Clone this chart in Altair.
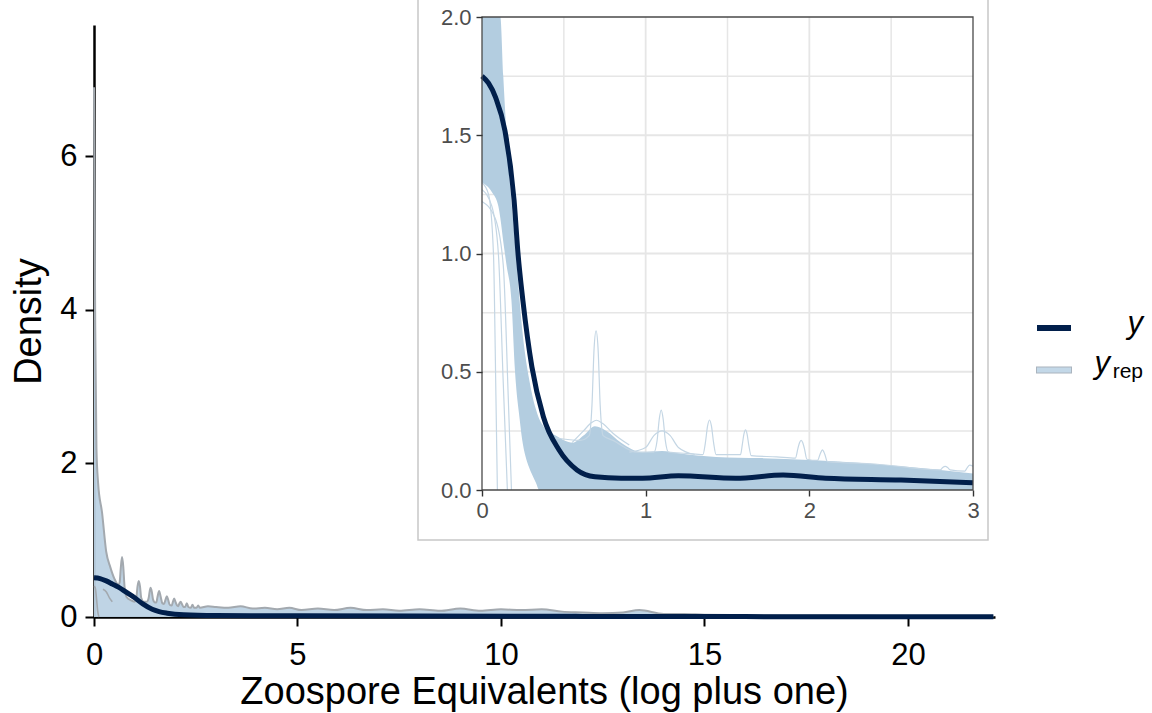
import altair as alt
import pandas as pd

FONT = "Liberation Sans"

# ---------------- main panel data ----------------
main_y_x = [0, 0.15, 0.3, 0.45, 0.6, 0.8, 1.0, 1.2, 1.43, 1.6, 1.8, 2.2, 3, 5, 8, 12, 16, 20, 22.1]
main_y_d = [0.51, 0.50, 0.47, 0.43, 0.39, 0.32, 0.25, 0.17, 0.10, 0.07, 0.05, 0.03, 0.02, 0.015,
            0.012, 0.008, 0.005, 0.003, 0.002]

main_env_x = [0.0, 0.03, 0.06, 0.1, 0.2, 0.3, 0.4, 0.5, 0.6, 0.63, 0.66, 0.69, 0.72, 0.75, 0.8,
              0.9, 1.0, 1.04, 1.07, 1.1, 1.13, 1.16, 1.22, 1.3, 1.34, 1.37, 1.39, 1.42, 1.45, 1.5,
              1.53, 1.56, 1.6, 1.64, 1.68, 1.72, 1.76, 1.79, 1.82, 1.86, 1.91, 1.94, 1.97, 2.0,
              2.04, 2.07, 2.1, 2.13, 2.16, 2.2, 2.24, 2.28, 2.32, 2.38, 2.42, 2.46, 2.52, 2.56,
              2.6, 2.8, 3.0, 3.3, 3.6, 3.9, 4.2, 4.5, 4.8, 5.1, 5.5, 5.9, 6.3, 6.7, 7.1, 7.5, 8,
              8.5, 9, 9.5, 10, 10.5, 11, 11.5, 12, 12.5, 13, 13.4, 14, 14.5, 15, 16, 17, 18, 19,
              20, 21, 22.1]
main_env_d = [6.9, 3.8, 2.2, 1.75, 1.35, 0.85, 0.65, 0.5, 0.42, 0.45, 0.65, 0.78, 0.65, 0.4, 0.26,
              0.22, 0.2, 0.25, 0.4, 0.47, 0.4, 0.25, 0.2, 0.2, 0.24, 0.34, 0.38, 0.33, 0.23, 0.19,
              0.19, 0.26, 0.34, 0.26, 0.18, 0.17, 0.23, 0.27, 0.23, 0.16, 0.15, 0.2, 0.24, 0.2,
              0.15, 0.14, 0.18, 0.2, 0.17, 0.13, 0.13, 0.18, 0.13, 0.12, 0.16, 0.12, 0.12, 0.15,
              0.12, 0.14, 0.13, 0.12, 0.14, 0.11, 0.12, 0.1, 0.12, 0.09, 0.11, 0.09, 0.12, 0.09,
              0.1, 0.08, 0.1, 0.08, 0.11, 0.08, 0.1, 0.09, 0.1, 0.07, 0.06, 0.05, 0.06, 0.09, 0.04,
              0.04, 0.03, 0.025, 0.02, 0.02, 0.015, 0.01, 0.01, 0.005]

main_low1_x = [0, 0.03, 0.06, 0.09, 0.12]
main_low1_d = [0.4, 0.38, 0.25, 0.08, 0.0]
main_low2_x = [0.22, 0.3, 0.38, 0.45]
main_low2_d = [0.36, 0.33, 0.25, 0.2]

# ---------------- inset data ----------------
band_x = [0, 0.06, 0.1, 0.112, 0.13, 0.14, 0.15, 0.18, 0.2, 0.207, 0.23, 0.24, 0.28, 0.285, 0.33,
          0.35, 0.375, 0.45, 0.555, 0.62, 0.69, 0.76, 0.85, 0.98, 1.1, 1.2, 1.43, 1.7, 2.0, 2.3,
          2.56, 2.8, 3.0]
band_hi = [2.0, 2.0, 2.0, 2.0, 1.75, 1.62, 1.5, 1.22, 1.06, 1.0, 0.8, 0.72, 0.5, 0.48, 0.34, 0.3,
           0.27, 0.23, 0.2, 0.23, 0.27, 0.25, 0.2, 0.16, 0.165, 0.155, 0.14, 0.135, 0.127, 0.115,
           0.1, 0.085, 0.07]
band_lo = [1.3, 1.26, 1.2, 1.15, 1.05, 1.0, 0.95, 0.8, 0.52, 0.45, 0.3, 0.24, 0.11, 0.1, 0.03,
           0.0, 0, 0, 0, 0, 0, 0, 0, 0, 0, 0, 0, 0, 0, 0, 0, 0, 0]

faint_lines = {
    "a": ([0, 0.04, 0.07, 0.085, 0.094], [1.3, 1.25, 1.0, 0.4, 0.0]),
    "b": ([0, 0.06, 0.1, 0.13, 0.155], [1.27, 1.2, 1.0, 0.45, 0.0]),
    "c": ([0, 0.08, 0.13, 0.16, 0.18], [1.22, 1.15, 0.95, 0.4, 0.0]),
    "s1": ([0.45, 0.6, 0.655, 0.672, 0.685, 0.697, 0.709, 0.722, 0.74, 0.8, 0.95, 1.05, 1.07,
            1.083, 1.095, 1.107, 1.12, 1.14, 1.25, 1.35, 1.365, 1.378, 1.39, 1.402, 1.415, 1.43,
            1.58, 1.59, 1.6, 1.61, 1.62, 1.63, 1.645, 1.8, 1.915, 1.93, 1.94, 1.95, 1.96, 1.97,
            1.985, 2.05, 2.065, 2.08, 2.095, 2.11, 2.4, 2.8, 2.815, 2.83, 2.845, 2.86, 2.95, 2.965,
            2.98, 3.0],
           [0.22, 0.21, 0.23, 0.36, 0.6, 0.673, 0.6, 0.36, 0.23, 0.21, 0.16, 0.16, 0.21, 0.3, 0.338,
            0.3, 0.21, 0.16, 0.155, 0.15, 0.2, 0.27, 0.296, 0.27, 0.2, 0.15, 0.15, 0.19, 0.235,
            0.254, 0.235, 0.19, 0.145, 0.14, 0.135, 0.175, 0.2, 0.21, 0.2, 0.175, 0.13, 0.125,
            0.15, 0.17, 0.15, 0.12, 0.11, 0.085, 0.095, 0.1, 0.095, 0.085, 0.08, 0.095, 0.105,
            0.1]),
    "s2": ([0.9, 1.0, 1.05, 1.1, 1.15, 1.2, 1.3], [0.16, 0.18, 0.23, 0.25, 0.23, 0.18, 0.15]),
    "s3": ([0.55, 0.62, 0.67, 0.7, 0.74, 0.8, 0.9], [0.2, 0.25, 0.285, 0.295, 0.28, 0.24, 0.19]),
}

inset_y_x = [0, 0.04, 0.083, 0.14, 0.196, 0.22, 0.25, 0.305, 0.375, 0.47, 0.58, 0.69, 0.85, 0.98,
             1.2, 1.55, 1.84, 2.1, 2.56, 3.0]
inset_y_d = [1.75, 1.72, 1.66, 1.52, 1.225, 1.0, 0.8, 0.52, 0.31, 0.17, 0.085, 0.056, 0.05, 0.05,
             0.06, 0.05, 0.063, 0.05, 0.042, 0.031]

main_x_ticks = [0, 5, 10, 15, 20]
main_y_ticks = [0, 2, 4, 6]
inset_x_ticks = [0, 1, 2, 3]
inset_y_ticks = [0, 0.5, 1.0, 1.5, 2.0]
inset_x_minor = [0.5, 1.5, 2.5]
inset_x_major = [1, 2]
inset_y_minor = [0.25, 0.75, 1.25, 1.75]
inset_y_major = [0.5, 1.0, 1.5]
inset_x_domain = [0, 3]
inset_y_domain = [0, 2]
main_x_domain = [0, 22.14]
main_y_domain = [0, 7.71]

legend_labels = ["y", "y"]
legend_sub = ["rep"]

# ---------------- layout ----------------
W, H = 901, 592
DARK = "#011f4b"
GREY = "#a3a9af"

xs_main = alt.Scale(domain=main_x_domain, nice=False, zero=False)
ys_main = alt.Scale(domain=main_y_domain, nice=False)

x_axis_main = alt.Axis(values=main_x_ticks, format="d", title="Zoospore Equivalents (log plus one)",
                       labelFont=FONT, labelFontSize=31, labelColor="black", labelPadding=14,
                       labelFlush=False,
                       domainColor="black", domainWidth=2.5, tickColor="black", tickWidth=2,
                       tickSize=9, grid=False, titleFont=FONT, titleFontSize=38,
                       titleFontWeight="normal", titleColor="black", titleX=450,
                       titleY=86, titleBaseline="alphabetic", titleAlign="center")
y_axis_main = alt.Axis(values=main_y_ticks, format="d", title="Density",
                       labelFont=FONT, labelFontSize=31, labelColor="black", labelPadding=8,
                       labelFlush=False,
                       domainColor="black", domainWidth=2.5, tickColor="black", tickWidth=2,
                       tickSize=9, grid=False, titleFont=FONT, titleFontSize=38,
                       titleFontWeight="normal", titleColor="black", titleX=-54,
                       titleY=296, titleBaseline="alphabetic", titleAlign="center", titleAngle=270)

MX = alt.X("x:Q", scale=xs_main, axis=x_axis_main)
MY = alt.Y("d:Q", scale=ys_main, axis=y_axis_main)

def mdf(x, d):
    return pd.DataFrame({"x": x, "d": d})

main_fill = alt.Chart(mdf(main_env_x, main_env_d)).mark_area(
    color="#bcd2e4", opacity=0.95, interpolate="monotone").encode(x=MX, y=MY)
main_env = alt.Chart(mdf(main_env_x, main_env_d)).mark_line(
    color=GREY, strokeWidth=2, interpolate="monotone").encode(x=MX, y=MY)
main_low1 = alt.Chart(mdf(main_low1_x, main_low1_d)).mark_line(
    color=GREY, strokeWidth=1.6, interpolate="monotone").encode(x=MX, y=MY)
main_low2 = alt.Chart(mdf(main_low2_x, main_low2_d)).mark_line(
    color=GREY, strokeWidth=1.6, interpolate="monotone").encode(x=MX, y=MY)
main_yline = alt.Chart(mdf(main_y_x, main_y_d)).mark_line(
    color=DARK, strokeWidth=5, interpolate="monotone").encode(x=MX, y=MY)

# legend (drawn manually to allow subscript)
one = pd.DataFrame({"k": [0]})
leg_dark = alt.Chart(one).mark_rule(color=DARK, strokeWidth=6).encode(
    x=alt.value(943), x2=alt.value(977), y=alt.value(303))
leg_light_edge = alt.Chart(one).mark_rule(color="#aab4be", strokeWidth=7).encode(
    x=alt.value(942), x2=alt.value(978), y=alt.value(345))
leg_light = alt.Chart(one).mark_rule(color="#c3d8e8", strokeWidth=5).encode(
    x=alt.value(943), x2=alt.value(977), y=alt.value(345))
leg_t1 = alt.Chart(pd.DataFrame({"t": [legend_labels[0]]})).mark_text(
    font=FONT, fontStyle="italic", fontSize=31, align="right", baseline="alphabetic",
    color="black").encode(x=alt.value(1049), y=alt.value(308), text="t:N")
leg_t2 = alt.Chart(pd.DataFrame({"t": [legend_labels[1]]})).mark_text(
    font=FONT, fontStyle="italic", fontSize=31, align="right", baseline="alphabetic",
    color="black").encode(x=alt.value(1016), y=alt.value(348), text="t:N")
leg_t3 = alt.Chart(pd.DataFrame({"t": legend_sub})).mark_text(
    font=FONT, fontSize=21, align="right", baseline="alphabetic",
    color="black").encode(x=alt.value(1049), y=alt.value(353), text="t:N")

main_layer = alt.layer(main_fill, main_low1, main_low2, main_env, main_yline,
                       leg_dark, leg_light_edge, leg_light, leg_t1, leg_t2, leg_t3)

# ---------------- inset ----------------
xs_in = alt.Scale(domain=inset_x_domain, range=[388, 879], nice=False, zero=False)
ys_in = alt.Scale(domain=inset_y_domain, range=[465, -8], nice=False, clamp=True)

x_axis_in = alt.Axis(orient="bottom", offset=-127, values=inset_x_ticks, format="d", title=None,
                     labelFont=FONT, labelFontSize=22, labelColor="#4d4d4d", labelPadding=4,
                     labelFlush=False, zindex=2,
                     domain=False, tickColor="#333333", tickWidth=1.4, tickSize=6, grid=False)
y_axis_in = alt.Axis(orient="left", offset=-388, values=inset_y_ticks, format=".1f", title=None,
                     labelFont=FONT, labelFontSize=22, labelColor="#4d4d4d", labelPadding=5,
                     labelFlush=False, zindex=2,
                     domain=False, tickColor="#333333", tickWidth=1.4, tickSize=6, grid=False)

IX = alt.X("u:Q", scale=xs_in, axis=x_axis_in)
IY = alt.Y("v:Q", scale=ys_in, axis=y_axis_in)

inset_bg = alt.Chart(one).mark_rect(fill="white", stroke="#c8c8c8", strokeWidth=1.5).encode(
    x=alt.value(324), x2=alt.value(894), y=alt.value(-40), y2=alt.value(515))

def vgrid(vals):
    return pd.DataFrame({"u": vals, "v": [inset_y_domain[0]] * len(vals),
                         "v2": [inset_y_domain[1]] * len(vals)})

def hgrid(vals):
    return pd.DataFrame({"v": vals, "u": [inset_x_domain[0]] * len(vals),
                         "u2": [inset_x_domain[1]] * len(vals)})

GRID = "#e6e6e6"
grid_vmin = alt.Chart(vgrid(inset_x_minor)).mark_rule(color=GRID, strokeWidth=1.5).encode(
    x=IX, y=IY, y2="v2:Q")
grid_vmaj = alt.Chart(vgrid(inset_x_major)).mark_rule(color=GRID, strokeWidth=1.8).encode(
    x=IX, y=IY, y2="v2:Q")
grid_hmin = alt.Chart(hgrid(inset_y_minor)).mark_rule(color=GRID, strokeWidth=1.5).encode(
    y=IY, x=IX, x2="u2:Q")
grid_hmaj = alt.Chart(hgrid(inset_y_major)).mark_rule(color=GRID, strokeWidth=1.8).encode(
    y=IY, x=IX, x2="u2:Q")

band = alt.Chart(pd.DataFrame({"u": band_x, "v": band_hi, "v2": band_lo})).mark_area(
    color="#b3cde0", interpolate="monotone").encode(x=IX, y=IY, y2="v2:Q")

faint_layers = []
for key, (fx, fy) in faint_lines.items():
    faint_layers.append(
        alt.Chart(pd.DataFrame({"u": fx, "v": fy})).mark_line(
            color="#c4d6e4", strokeWidth=1.2, interpolate="monotone").encode(x=IX, y=IY))

inset_yline = alt.Chart(pd.DataFrame({"u": inset_y_x, "v": inset_y_d})).mark_line(
    color=DARK, strokeWidth=5, interpolate="monotone").encode(x=IX, y=IY)

border = alt.Chart(pd.DataFrame({"u": [inset_x_domain[0]], "u2": [inset_x_domain[1]],
                                 "v": [inset_y_domain[0]], "v2": [inset_y_domain[1]]})).mark_rect(
    fillOpacity=0, stroke="#4a4a4a", strokeWidth=1.3).encode(x=IX, x2="u2:Q", y=IY, y2="v2:Q")

inset_layer = alt.layer(inset_bg, grid_vmin, grid_hmin, grid_vmaj, grid_hmaj, band,
                        *faint_layers, inset_yline, border)

chart = alt.layer(main_layer, inset_layer).resolve_scale(
    x="independent", y="independent").properties(
    width=W, height=H,
    autosize=alt.AutoSizeParams(type="none"),
    padding={"left": 94, "top": 25, "right": 157, "bottom": 96},
    background="white",
).configure_view(stroke=None)

chart.save("out.html", embed_options={"renderer": "svg", "actions": False})
